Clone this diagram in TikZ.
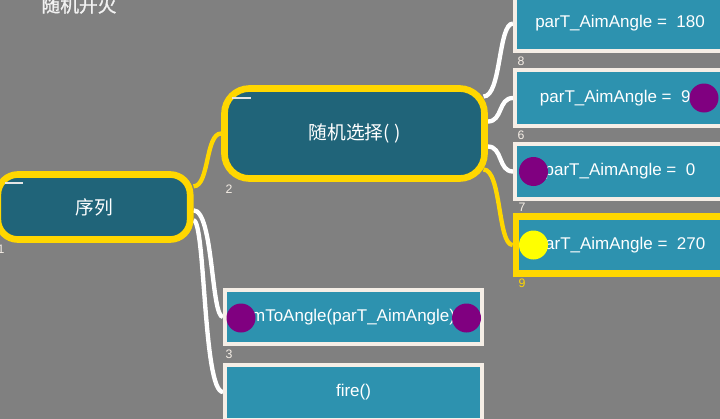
\documentclass[tikz,border=0pt]{standalone}
\usepackage{fontspec}
\setmainfont{Liberation Sans}
\newfontfamily\cjk{Noto Sans CJK SC}
\newfontfamily\cjkhead[FakeBold=1.2]{Noto Sans CJK SC}
\pgfdeclarelayer{bg}
\pgfdeclarelayer{wires}
\pgfsetlayers{bg,wires,main}
\definecolor{canvas}{HTML}{808080}
\definecolor{deepteal}{HTML}{206479}
\definecolor{lightteal}{HTML}{2D92AF}
\definecolor{cream}{HTML}{F5EEE6}
\definecolor{gold}{HTML}{FFD700}
\definecolor{dotpurple}{HTML}{800080}
\definecolor{dotyellow}{HTML}{FFFF00}
\tikzset{
  seqnode/.style={draw=gold, line width=0.2cm, fill=deepteal, text=white,
    inner sep=0, font=\cjk\fontsize{16}{18}\selectfont},
  actnode/.style={draw=cream, line width=0.12cm, fill=lightteal, text=white,
    inner sep=0, minimum height=1.65cm, font=\fontsize{14.5}{16}\selectfont},
  picked/.style={draw=gold, line width=0.2cm},
  numlbl/.style={text=cream, inner sep=0, font=\fontsize{10.5}{12}\selectfont},
  dot/.style={circle, inner sep=0, minimum size=0.87cm},
  wire/.style={draw=white, line width=0.13cm},
  goldwire/.style={draw=gold, line width=0.13cm},
  dashmark/.style={draw=white!80!gray, line width=0.07cm},
}
\begin{document}
\begin{tikzpicture}[x=0.03cm, y=-0.03cm]
  \useasboundingbox (0,0) rectangle (720,419);
  \begin{pgfonlayer}{bg}
    \fill[canvas] (0,0) rectangle (720,419);
  \end{pgfonlayer}
  \node[text=white!90!gray, inner sep=0, font=\cjkhead\fontsize{16}{18}\selectfont] (title) at (79,5) {随机开火};
  % composite nodes
  \node[seqnode, rounded corners=0.6cm, minimum width=5.77cm, minimum height=1.95cm] (seq) at (94,207) {序列};
  \node[seqnode, rounded corners=0.75cm, minimum width=7.8cm, minimum height=2.7cm] (sel) at (354.5,133.5) {随机选择( )};
  \draw[dashmark] ([shift={(0.31cm,-0.36cm)}]seq.north west) -- +(18,0);
  \draw[dashmark] ([shift={(0.33cm,-0.39cm)}]sel.north west) -- +(19,0);
  % action boxes
  \node[actnode, minimum width=6.3cm] (b8) at (620,23.5) {parT\_AimAngle =\ \ 180};
  \node[actnode, minimum width=6.3cm, minimum height=1.68cm] (b6) at (620,98) {parT\_AimAngle =\ \ 90};
  \node[actnode, minimum width=6.3cm] (b7) at (620,171.5) {parT\_AimAngle =\ \ 0};
  \node[actnode, picked, minimum width=6.27cm, minimum height=1.71cm] (b9) at (620.5,245) {parT\_AimAngle =\ \ 270};
  \node[actnode, minimum width=7.71cm, minimum height=1.62cm] (b3) at (353.5,317) {\hspace*{-0.42cm}aimToAngle(parT\_AimAngle)};
  \node[actnode, minimum width=7.71cm] (bf) at (353.5,392) {fire()};
  % index labels
  \node[numlbl] (l1) at (1,249) {1};
  \node[numlbl] (l2) at (229,189) {2};
  \node[numlbl] (l8) at (521,61) {8};
  \node[numlbl] (l6) at (521,135) {6};
  \node[numlbl] (l7) at (522,207) {7};
  \node[numlbl, text=gold] (l9) at (522,283) {9};
  \node[numlbl] (l3) at (229,354) {3};
  % breakpoint dots
  \node[dot, fill=dotpurple] (d6) at (704,98) {};
  \node[dot, fill=dotpurple] (d7) at (533.5,171.5) {};
  \node[dot, fill=dotyellow] (d9) at (533.5,245) {};
  \node[dot, fill=dotpurple] (d3a) at (241,318) {};
  \node[dot, fill=dotpurple] (d3b) at (466.5,318) {};
  % links
  \begin{pgfonlayer}{wires}
    \draw[goldwire] ([yshift=0.62cm]seq.east) .. controls +(16,0) and +(-16,0) .. (sel.west);
    \draw[wire] ([yshift=-0.1cm]seq.east) .. controls +(20,0) and +(-12,0) .. (b3.west);
    \draw[wire] ([yshift=-0.4cm]seq.east) .. controls +(12,0) and +(-20,0) .. (bf.west);
    \draw[wire] ([shift={(-0.13cm,1.11cm)}]sel.east) .. controls +(18,0) and +(-15,0) .. (b8.west);
    \draw[wire] ([yshift=0.36cm]sel.east) .. controls +(15,0) and +(-15,0) .. (b6.west);
    \draw[wire] ([yshift=-0.39cm]sel.east) .. controls +(15,0) and +(-15,0) .. (b7.west);
    \draw[goldwire] ([shift={(-0.13cm,-1.08cm)}]sel.east) .. controls +(18,0) and +(-15,0) .. (b9.west);
  \end{pgfonlayer}
\end{tikzpicture}
\end{document}
